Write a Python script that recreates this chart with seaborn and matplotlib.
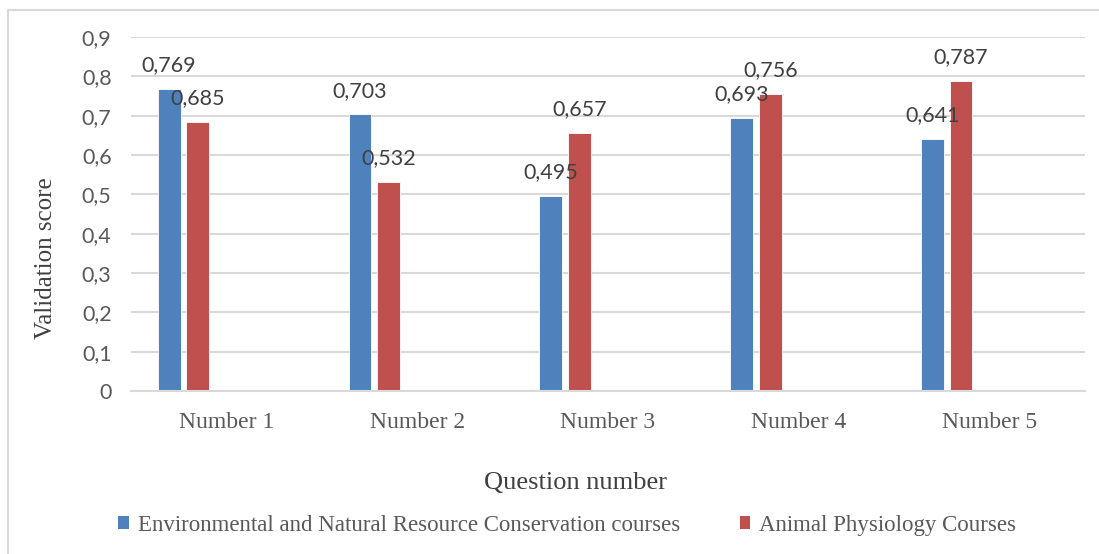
import matplotlib
matplotlib.use("Agg")
import matplotlib.pyplot as plt
from matplotlib.patches import Rectangle, Patch
from matplotlib.ticker import FuncFormatter, MultipleLocator
import seaborn as sns
import pandas as pd

# Data
questions = ["Number 1", "Number 2", "Number 3", "Number 4", "Number 5"]
env_scores = [0.769, 0.703, 0.495, 0.693, 0.641]
animal_scores = [0.685, 0.532, 0.657, 0.756, 0.787]
series_names = [
    "Environmental and Natural Resource Conservation courses",
    "Animal Physiology Courses",
]
# Workbook columns with no values; they still take up a slot in each group
empty_series = ["Series 3", "Series 4", "Series 5"]

df = pd.DataFrame({
    "question": questions * 2,
    "series": [series_names[0]] * 5 + [series_names[1]] * 5,
    "score": env_scores + animal_scores,
})

sns.set_theme(style="white")
plt.rcParams["font.family"] = ["Lato", "DejaVu Sans"]

blue = "#4F81BD"
red = "#C0504D"
palette = {series_names[0]: blue, series_names[1]: red,
           empty_series[0]: "#9BBB59", empty_series[1]: "#8064A2",
           empty_series[2]: "#4BACC6"}

fig = plt.figure(figsize=(10.99, 5.54), dpi=100)
ax = fig.add_axes([0.1192, 0.2942, 0.8681, 0.6390])

sns.barplot(data=df, x="question", y="score", hue="series",
            hue_order=series_names + empty_series, palette=palette,
            order=questions, width=0.75, gap=0.2, legend=False,
            saturation=1, edgecolor="white", linewidth=0.6, ax=ax)

text_gray = "#404040"
axis_gray = "#595959"

for cont in ax.containers:
    ax.bar_label(cont, labels=[f"{v:.3f}".replace(".", ",") for v in cont.datavalues],
                 padding=10, fontsize=15.5, color=text_gray)

ax.set_ylim(0, 0.9)
ax.set_xlim(-0.5, 4.5)
ax.yaxis.set_major_locator(MultipleLocator(0.1))
ax.yaxis.set_major_formatter(FuncFormatter(
    lambda v, p: "0" if abs(v) < 1e-9 else f"{v:.1f}".replace(".", ",")))
ax.grid(axis="y", color="#d9d9d9", linewidth=1.5)
ax.set_axisbelow(True)
for s in ["top", "right", "left"]:
    ax.spines[s].set_visible(False)
ax.spines["bottom"].set_color("#d9d9d9")
ax.spines["bottom"].set_linewidth(1.5)
ax.tick_params(axis="y", length=0, labelsize=15.5, labelcolor=axis_gray, pad=14)
ax.tick_params(axis="x", length=0, labelsize=17, labelcolor=axis_gray, pad=15)
for lbl in ax.get_xticklabels():
    lbl.set_family(["Liberation Serif"])

ax.set_xlabel("Question number", family=["Liberation Serif"], fontsize=19,
              color=text_gray)
ax.xaxis.set_label_coords(0.466, -0.228)
ax.set_ylabel("Validation score", family=["Liberation Serif"], fontsize=18,
              color=text_gray)
ax.yaxis.set_label_coords(-0.078, 0.376)

handles = [Patch(facecolor=blue, edgecolor="none"),
           Patch(facecolor=red, edgecolor="none")]
fig.legend(handles, series_names, loc="center", bbox_to_anchor=(0.516, 0.052),
           ncol=2, frameon=False, handlelength=0.45, handleheight=0.45,
           handletextpad=0.4, columnspacing=2.6,
           prop={"family": ["Liberation Serif"], "size": 16.5},
           labelcolor=axis_gray)

# Chart area border
fig.patches.append(Rectangle((8 / 1099, -0.01), 1.1, 1 - 10 / 554 + 0.01,
                             transform=fig.transFigure, fill=False,
                             edgecolor="#d9d9d9", linewidth=1.5))

fig.savefig("out.png", dpi=100)
